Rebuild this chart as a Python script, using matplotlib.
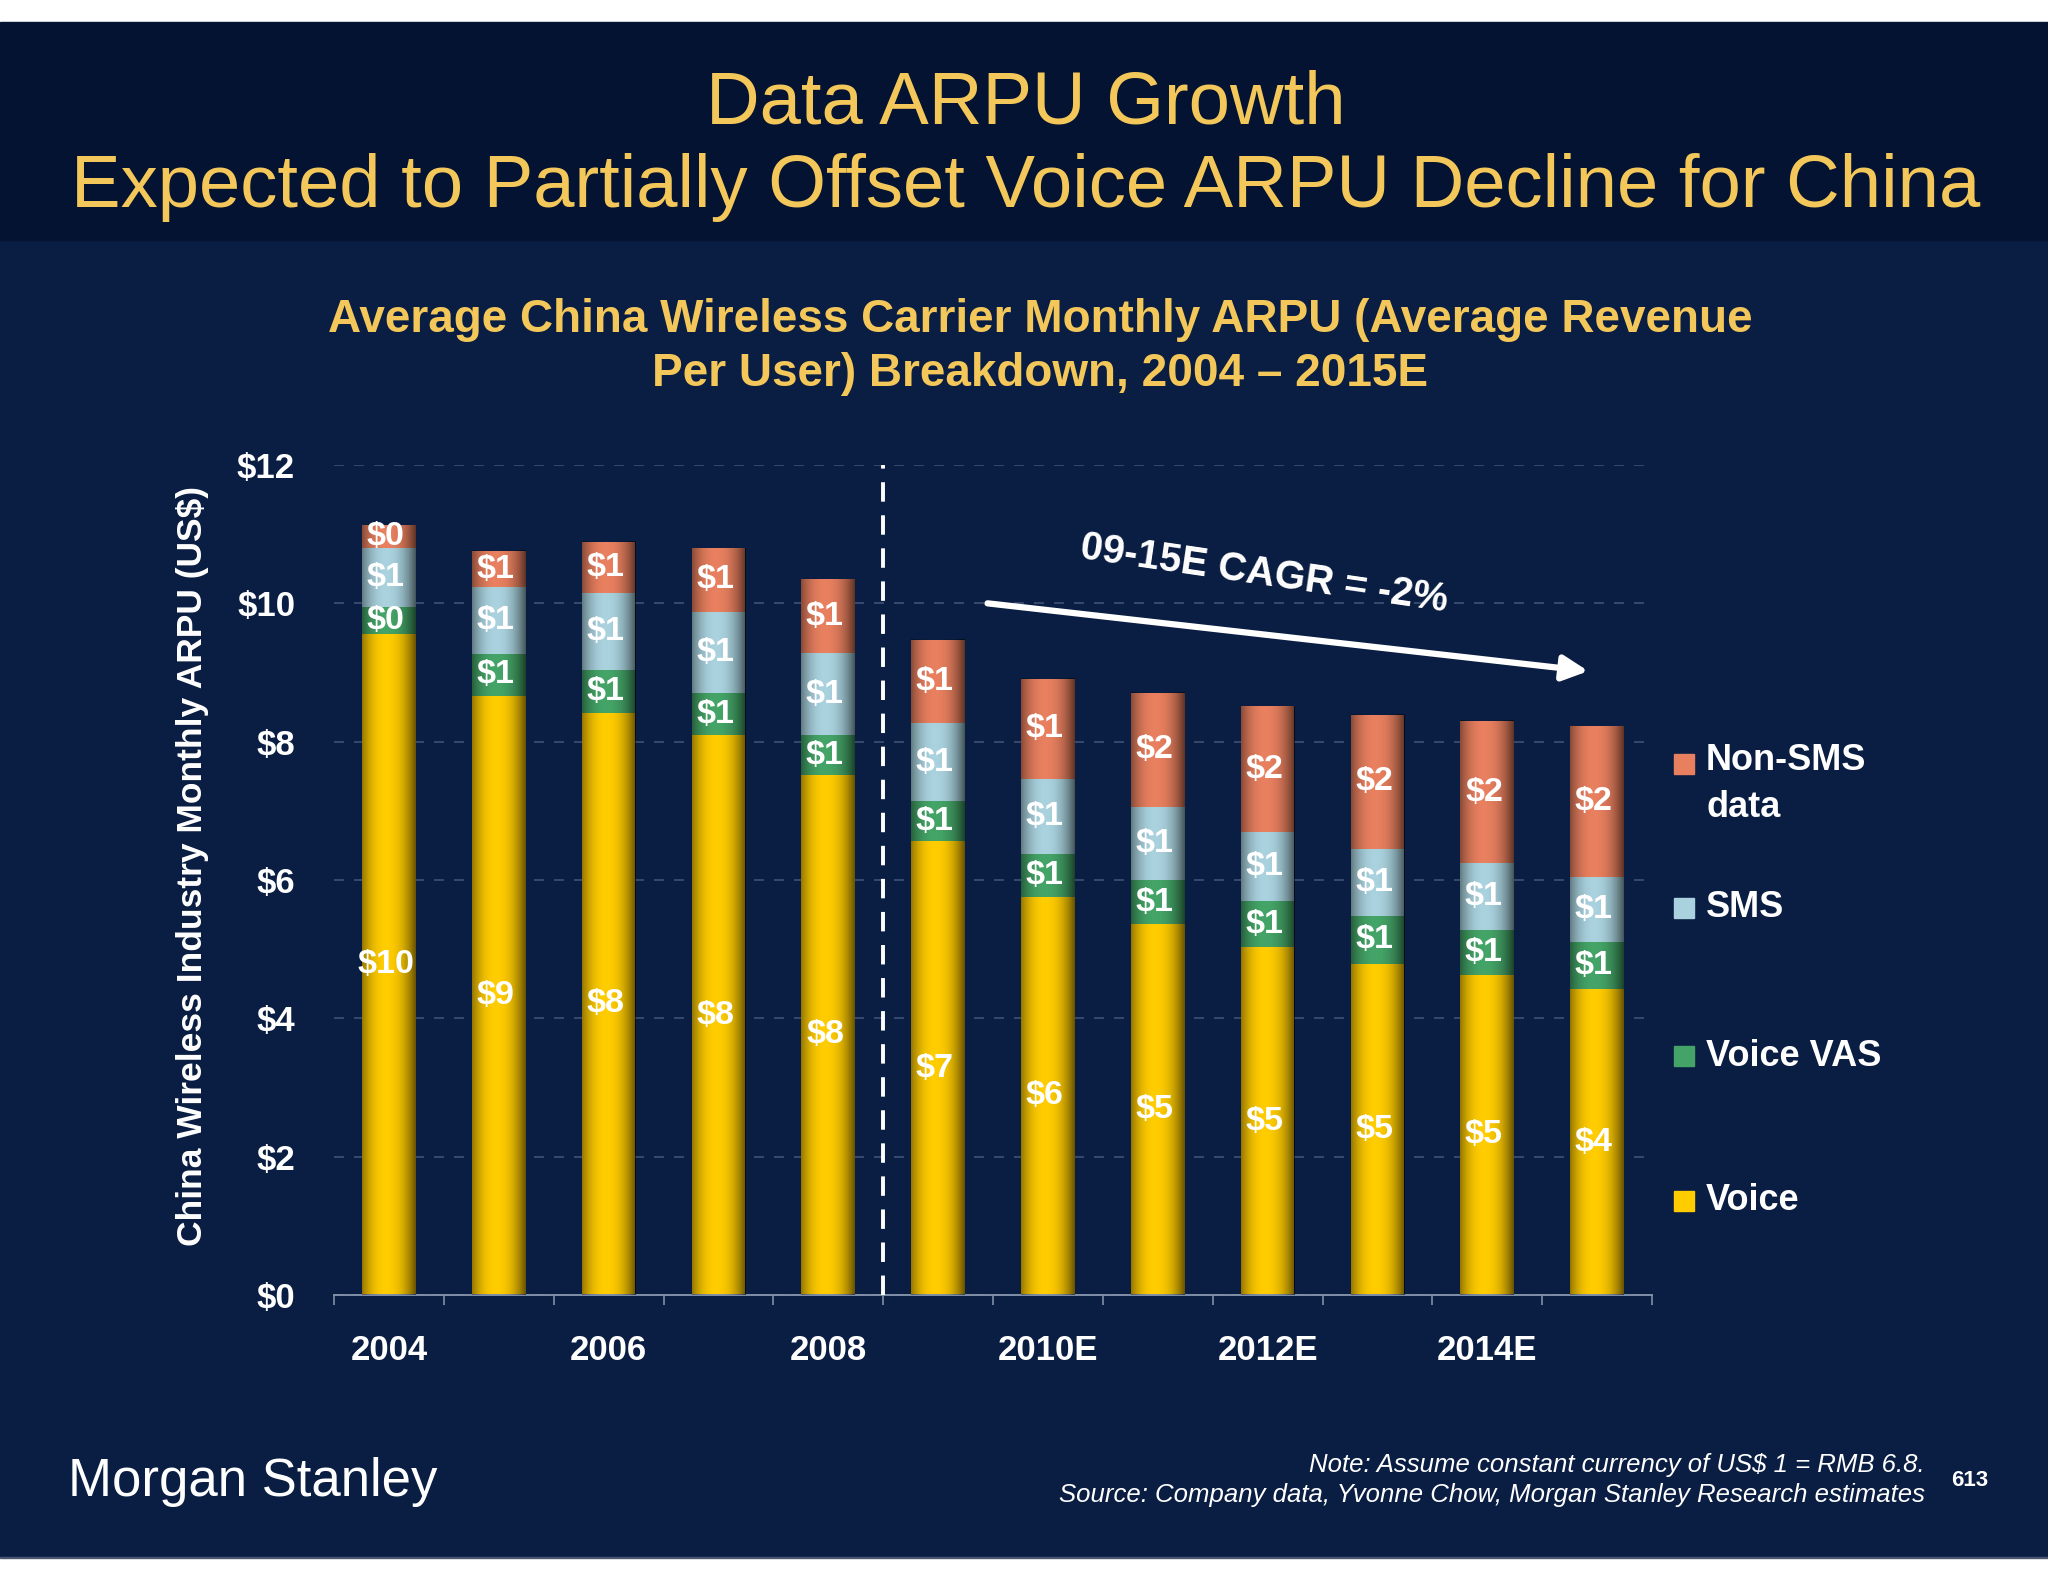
import numpy as np
import matplotlib
matplotlib.use("Agg")
import matplotlib.pyplot as plt
from matplotlib.patches import Rectangle

plt.rcParams['font.family'] = ['Liberation Sans', 'DejaVu Sans']

# ---------------- data ----------------
years = ['2004', '2005', '2006', '2007', '2008', '2009',
         '2010E', '2011E', '2012E', '2013E', '2014E', '2015E']
voice = [9.55, 8.66, 8.42, 8.09, 7.52, 6.56, 5.76, 5.36, 5.03, 4.79, 4.63, 4.42]
voice_vas = [0.40, 0.61, 0.61, 0.61, 0.57, 0.58, 0.61, 0.64, 0.66, 0.69, 0.65, 0.69]
sms = [0.85, 0.96, 1.12, 1.18, 1.19, 1.13, 1.09, 1.05, 1.00, 0.97, 0.96, 0.93]
non_sms = [0.33, 0.53, 0.74, 0.92, 1.07, 1.20, 1.45, 1.66, 1.82, 1.94, 2.06, 2.18]
series_names = ['Voice', 'Voice VAS', 'SMS', 'Non-SMS\ndata']
yticks = [0, 2, 4, 6, 8, 10, 12]
ytick_labels = ['$0', '$2', '$4', '$6', '$8', '$10', '$12']
xtick_labels = ['2004', '2006', '2008', '2010E', '2012E', '2014E']
cagr_text = '09-15E CAGR = -2%'

# ---------------- style ----------------
W, H = 2048, 1582
MAIN_BG = '#0a1d42'
TOP_BG = '#041331'
GOLD = '#f3c75a'
colors = ['#ffcc00', '#44a467', '#a9d2de', '#e8805f']

fig = plt.figure(figsize=(W / 100, H / 100), dpi=100)
fig.patch.set_facecolor(MAIN_BG)

def fy(py):
    return 1 - py / H

fig.add_artist(Rectangle((0, fy(22)), 1, 22 / H, transform=fig.transFigure,
                         color='white', zorder=-5))
fig.add_artist(Rectangle((0, fy(240)), 1, (240 - 22) / H, transform=fig.transFigure,
                         color=TOP_BG, zorder=-5))
fig.add_artist(Rectangle((0, 0), 1, 24 / H, transform=fig.transFigure,
                         color='white', zorder=-5))
fig.add_artist(Rectangle((0, 24 / H), 1, 1.5 / H, transform=fig.transFigure,
                         color='#4a5670', zorder=-4))

# titles
fig.text(0.501, fy(104), 'Data ARPU Growth', ha='center', va='center',
         fontsize=53.5, color=GOLD)
fig.text(0.501, fy(187), 'Expected to Partially Offset Voice ARPU Decline for China',
         ha='center', va='center', fontsize=53.5, color=GOLD)
fig.text(0.508, fy(320), 'Average China Wireless Carrier Monthly ARPU (Average Revenue',
         ha='center', va='center', fontsize=33, color=GOLD, fontweight='bold')
fig.text(0.508, fy(374), 'Per User) Breakdown, 2004 \u2013 2015E',
         ha='center', va='center', fontsize=33, color=GOLD, fontweight='bold')

# ---------------- axes ----------------
ax = fig.add_axes([334 / W, 287 / H, 1318 / W, 830 / H])
ax.set_facecolor('none')

x = np.arange(len(years))
width = 0.49
series = [np.array(voice), np.array(voice_vas), np.array(sms), np.array(non_sms)]
bottom = np.zeros(len(years))
for vals, col in zip(series, colors):
    ax.bar(x, vals, width, bottom=bottom, color=col, zorder=2, linewidth=0)
    for xi, b, v in zip(x, bottom, vals):
        ax.text(xi - 0.03, b + v / 2, f'${v:.0f}', ha='center', va='center',
                fontsize=24.5, fontweight='bold', color='white', zorder=5)
    bottom = bottom + vals

# cylinder-like shading on each bar
t = np.linspace(0, 1, 128)
alpha = np.where(t < 0.45, 0.42 * ((0.45 - t) / 0.45) ** 2.2,
                 0.6 * ((t - 0.45) / 0.55) ** 2.2)
shade = np.zeros((1, len(t), 4))
shade[..., 3] = alpha
for xi, tot in zip(x, bottom):
    ax.imshow(shade, extent=(xi - width / 2, xi + width / 2, 0, tot),
              aspect='auto', zorder=3, interpolation='bilinear')

ax.set_xlim(-0.5, len(years) - 0.5)
ax.set_ylim(0, 12)

# grid
ax.set_yticks(yticks)
ax.set_yticklabels(ytick_labels)
ax.yaxis.grid(True, linestyle=(0, (6, 6)), color='#3e5073', linewidth=1.2, zorder=0)
ax.set_axisbelow(True)

ax.set_xticks(x[::2])
ax.set_xticklabels(xtick_labels)
ax.set_xticks(np.arange(-0.5, len(years), 1), minor=True)
ax.tick_params(axis='x', which='major', length=0, pad=28, labelsize=25,
               labelcolor='white')
ax.tick_params(axis='x', which='minor', length=7, width=1.2, color='#8090a8',
               direction='out')
ax.tick_params(axis='y', length=0, pad=28, labelsize=25, labelcolor='white')
for lab in ax.get_xticklabels() + ax.get_yticklabels():
    lab.set_fontweight('bold')

for s in ['left', 'right', 'top']:
    ax.spines[s].set_visible(False)
ax.spines['bottom'].set_color('#8090a8')
ax.spines['bottom'].set_linewidth(1.4)

# vertical dashed separator between actuals and estimates
ax.plot([4.5, 4.5], [0, 12], color='white', linestyle=(0, (5, 3.5)),
        linewidth=2.8, zorder=4, clip_on=False)

# CAGR arrow and text
ax.annotate('', xy=(10.92, 9.02), xytext=(5.45, 10.0),
            arrowprops=dict(arrowstyle='-|>', color='white', lw=4.5,
                            mutation_scale=38, shrinkA=0, shrinkB=0), zorder=6)
ax.text(7.97, 10.42, cagr_text, rotation=-8.3, ha='center', va='center',
        fontsize=28.5, fontweight='bold', color='white', rotation_mode='anchor')

# y label
fig.text(193 / W, fy(866), 'China Wireless Industry Monthly ARPU (US$)',
         rotation=90, ha='center', va='center', fontsize=25.5, fontweight='bold',
         color='white')

# ---------------- legend (manual) ----------------
leg_y = [1201, 1056, 908, 764]
for name, col, py in zip(series_names, colors, leg_y):
    fig.add_artist(Rectangle((1674 / W, fy(py + 10)), 20 / W, 20 / H,
                             transform=fig.transFigure, color=col, zorder=5))
    if '\n' in name:
        fig.text(1706 / W, fy(py - 21), name, ha='left', va='top', fontsize=26,
                 fontweight='bold', color='white', linespacing=1.45)
    else:
        fig.text(1706 / W, fy(py), name, ha='left', va='center', fontsize=26,
                 fontweight='bold', color='white')

# ---------------- footer ----------------
fig.text(68 / W, fy(1482), 'Morgan Stanley', ha='left', va='center', fontsize=38,
         color='white', family=['Liberation Sans Narrow', 'Liberation Sans'])
fig.text(1925 / W, fy(1465), 'Note: Assume constant currency of US$ 1 = RMB 6.8.',
         ha='right', va='center', fontsize=18.5, style='italic', color='white')
fig.text(1925 / W, fy(1495),
         'Source: Company data, Yvonne Chow, Morgan Stanley Research estimates',
         ha='right', va='center', fontsize=18.5, style='italic', color='white')
fig.text(1970 / W, fy(1481), '613', ha='center', va='center', fontsize=16,
         fontweight='bold', color='white')

fig.savefig('out.png', dpi=100, facecolor=fig.get_facecolor())
